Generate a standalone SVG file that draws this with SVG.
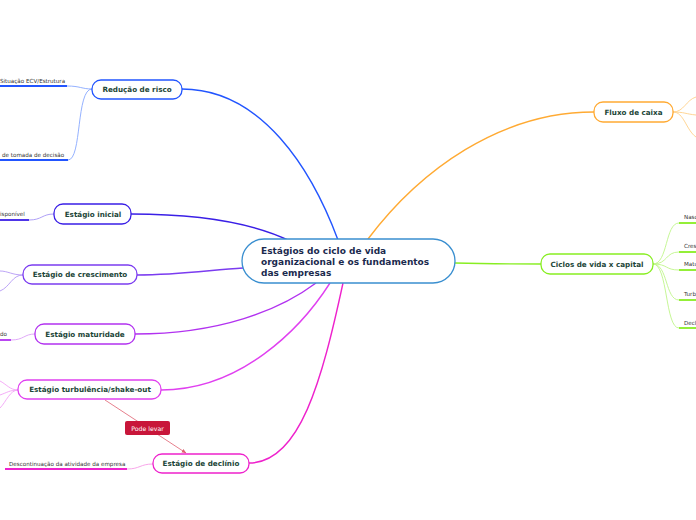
<svg xmlns="http://www.w3.org/2000/svg" width="696" height="520" viewBox="0 0 696 520">
<defs>
<style>
.node{fill:#fff;stroke-width:1.3}
.lbl{font-family:"DejaVu Sans",sans-serif;font-weight:bold;font-size:7.2px;fill:#1c4638;text-anchor:middle}
.sub{font-family:"DejaVu Sans",sans-serif;font-size:5.6px;fill:#333}
.main{fill:none;stroke-width:1.4}
.twig{fill:none;stroke-width:0.9}
.ul{fill:none;stroke-width:1.8}
</style>
<marker id="arr" viewBox="0 0 10 10" refX="9" refY="5" markerWidth="6" markerHeight="6" orient="auto">
<path d="M0,1 L10,5 L0,9 z" fill="#e06070"/>
</marker>
</defs>
<rect width="696" height="520" fill="#fff"/>
<g id="connectors">
<path class="main" stroke="#2255ff" d="M182,89 C262,89 312,170 338,240"/>
<path class="main" stroke="#3a1fe6" d="M131,214 C200,214 255,224 290,241"/>
<path class="main" stroke="#7b3cf0" d="M137,275 C180,275 210,270 243,268"/>
<path class="main" stroke="#b232f0" d="M135,334 C220,334 280,310 316,283"/>
<path class="main" stroke="#e040f0" d="M161,390 C240,390 300,330 330,283"/>
<path class="main" stroke="#ee22cc" d="M249,463 C300,463 322,380 343,283"/>
<path class="main" stroke="#ffaa33" d="M368,239 C420,170 500,112 594,112"/>
<path class="main" stroke="#88ee22" d="M455,263 C490,264 510,264 541,264"/>
<!-- Redução subs -->
<path class="ul" stroke="#2255ff" d="M0,86 L67,86"/>
<path class="twig" stroke="#88a8ff" d="M67,86 C80,86 82,89 92,89"/>
<path class="ul" stroke="#2255ff" d="M0,160 L68,160"/>
<path class="twig" stroke="#88a8ff" d="M68,160 C82,160 76,89 92,89"/>
<!-- Inicial sub -->
<path class="ul" stroke="#3a1fe6" d="M0,220 L29,220"/>
<path class="twig" stroke="#a594f5" d="M29,220 C42,220 42,214 54,214"/>
<!-- Crescimento subs -->
<path class="twig" stroke="#b49af5" d="M23,275 C12,275 8,271 0,271"/>
<path class="twig" stroke="#b49af5" d="M23,275 C12,275 10,287 0,291"/>
<!-- Maturidade sub -->
<path class="ul" stroke="#b232f0" d="M0,340 L11,340"/>
<path class="twig" stroke="#dca0f7" d="M11,340 C24,340 24,334 35,334"/>
<!-- Turbulência subs -->
<path class="twig" stroke="#f3a3f6" d="M18,390 C10,390 6,384 0,381"/>
<path class="twig" stroke="#f3a3f6" d="M18,390 C10,390 6,393 0,395"/>
<path class="twig" stroke="#f3a3f6" d="M18,390 C10,390 6,402 0,408"/>
<!-- Declínio sub -->
<path class="ul" stroke="#ee22cc" d="M5,469 L127,469"/>
<path class="twig" stroke="#f79be6" d="M127,469 C140,469 140,464 153,464"/>
<!-- Fluxo subs -->
<path class="twig" stroke="#ffd089" d="M673,112 C684,112 686,100 696,97"/>
<path class="twig" stroke="#ffd089" d="M673,112 C684,112 686,114 696,115"/>
<path class="twig" stroke="#ffd089" d="M673,112 C684,112 686,130 696,137"/>
<!-- Ciclos subs -->
<path class="twig" stroke="#bff58a" d="M653,264 C668,264 665,223 679,223"/>
<path class="twig" stroke="#bff58a" d="M653,264 C668,264 665,252 679,252"/>
<path class="twig" stroke="#bff58a" d="M653,264 C668,264 665,270 679,270"/>
<path class="twig" stroke="#bff58a" d="M653,264 C668,264 665,300 679,300"/>
<path class="twig" stroke="#bff58a" d="M653,264 C668,264 665,328 679,328"/>
<path class="ul" stroke="#88ee22" d="M679,223 L696,223"/>
<path class="ul" stroke="#88ee22" d="M679,252 L696,252"/>
<path class="ul" stroke="#88ee22" d="M679,270 L696,270"/>
<path class="ul" stroke="#88ee22" d="M679,300 L696,300"/>
<path class="ul" stroke="#88ee22" d="M679,328 L696,328"/>
<!-- Pode levar relation -->
<path fill="none" stroke="#e06070" stroke-width="0.8" d="M105,400 L186,453" marker-end="url(#arr)"/>
</g>
<g id="central">
<rect class="node" x="242" y="239" width="213" height="44" rx="22" stroke="#3a8fd0"/>
<text font-family="DejaVu Sans,sans-serif" font-weight="bold" font-size="9px" fill="#1b2a4e">
<tspan x="261" y="254">Estágios do ciclo de vida</tspan>
<tspan x="261" y="265">organizacional e os fundamentos</tspan>
<tspan x="261" y="276">das empresas</tspan>
</text>
</g>
<g id="reducao">
<rect class="node" x="92" y="80" width="90" height="19" rx="9" stroke="#2255ff"/>
<text class="lbl" x="137" y="92">Redução de risco</text>
<text class="sub" x="0" y="83">Situação ECV/Estrutura</text>
<text class="sub" x="2" y="157">de tomada de decisão</text>
</g>
<g id="inicial">
<rect class="node" x="54" y="204" width="77" height="20" rx="9" stroke="#3a1fe6"/>
<text class="lbl" x="93" y="216.5">Estágio inicial</text>
<text class="sub" x="0" y="216">isponível</text>
</g>
<g id="crescimento">
<rect class="node" x="23" y="265" width="114" height="19" rx="9" stroke="#7b3cf0"/>
<text class="lbl" x="80" y="277">Estágio de crescimento</text>
</g>
<g id="maturidade">
<rect class="node" x="35" y="324" width="100" height="20" rx="9" stroke="#b232f0"/>
<text class="lbl" x="85" y="336.5">Estágio maturidade</text>
<text class="sub" x="0" y="336">do</text>
</g>
<g id="turbulencia">
<rect class="node" x="18" y="380" width="143" height="19" rx="9" stroke="#e040f0"/>
<text class="lbl" x="90" y="392">Estágio turbulência/shake-out</text>
</g>
<g id="declinio">
<rect class="node" x="153" y="454" width="96" height="19" rx="9" stroke="#ee22cc"/>
<text class="lbl" x="201" y="466">Estágio de declínio</text>
<text class="sub" x="9" y="466">Descontinuação da atividade da empresa</text>
</g>
<g id="pode-levar">
<rect x="125" y="421" width="45" height="14" rx="2" fill="#c8163a"/>
<text x="147.5" y="430.5" font-family="DejaVu Sans,sans-serif" font-size="6.2px" fill="#fff" text-anchor="middle">Pode levar</text>
</g>
<g id="fluxo">
<rect class="node" x="594" y="102" width="79" height="20" rx="9" stroke="#ffaa33"/>
<text class="lbl" x="633.5" y="114.5">Fluxo de caixa</text>
</g>
<g id="ciclos">
<rect class="node" x="541" y="254" width="112" height="20" rx="9" stroke="#88ee22"/>
<text class="lbl" x="597" y="266.5">Ciclos de vida x capital</text>
<text class="sub" x="684" y="219">Nasc</text>
<text class="sub" x="684" y="248">Cres</text>
<text class="sub" x="684" y="266">Matu</text>
<text class="sub" x="684" y="296">Turb</text>
<text class="sub" x="684" y="325">Decl</text>
</g>
</svg>
